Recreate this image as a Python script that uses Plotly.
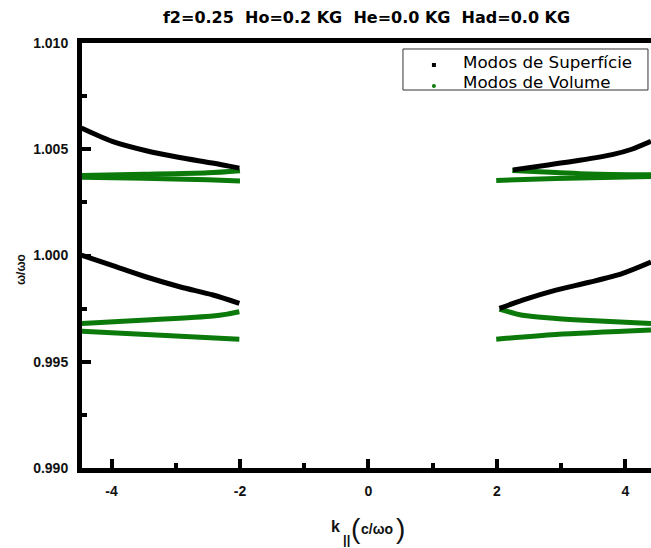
import plotly.graph_objects as go

# Dispersion branches: k_parallel (c/wo) versus normalized frequency w/wo
# Surface modes (black)
surf_ul_k = [-4.47, -3.99, -3.46, -2.94, -2.43, -2.01]
surf_ul_w = [1.00600, 1.00537, 1.00493, 1.00461, 1.00435, 1.00411]
surf_ll_k = [-4.47, -3.98, -3.47, -2.94, -2.42, -2.01]
surf_ll_w = [1.00002, 0.99952, 0.99900, 0.99853, 0.99814, 0.99775]
surf_ur_k = [2.25, 2.77, 3.29, 3.81, 4.10, 4.40]
surf_ur_w = [1.00403, 1.00425, 1.00448, 1.00476, 1.00500, 1.00537]
surf_lr_k = [2.04, 2.40, 2.92, 3.44, 3.96, 4.40]
surf_lr_w = [0.99751, 0.99790, 0.99837, 0.99874, 0.99916, 0.99969]

# Volume modes (green)
vol_ul_a_k = [-4.47, -3.50, -2.50, -2.00]
vol_ul_a_w = [1.00377, 1.00382, 1.00389, 1.00399]
vol_ul_b_k = [-4.47, -3.50, -2.50, -2.00]
vol_ul_b_w = [1.00368, 1.00363, 1.00356, 1.00351]
vol_ll_a_k = [-4.47, -3.46, -2.42, -2.20, -2.01]
vol_ll_a_w = [0.99680, 0.99696, 0.99715, 0.99724, 0.99735]
vol_ll_b_k = [-4.47, -3.46, -2.01]
vol_ll_b_w = [0.99644, 0.99628, 0.99606]
vol_ur_a_k = [2.24, 2.92, 3.44, 4.40]
vol_ur_a_w = [1.00400, 1.00391, 1.00384, 1.00380]
vol_ur_b_k = [1.99, 2.92, 4.40]
vol_ur_b_w = [1.00353, 1.00362, 1.00372]
vol_lr_a_k = [2.04, 2.40, 2.92, 3.44, 4.40]
vol_lr_a_w = [0.99748, 0.99719, 0.99704, 0.99694, 0.99680]
vol_lr_b_k = [1.99, 2.92, 4.40]
vol_lr_b_w = [0.99606, 0.99628, 0.99649]

surface_branches = [(surf_ul_k, surf_ul_w), (surf_ll_k, surf_ll_w),
                     (surf_ur_k, surf_ur_w), (surf_lr_k, surf_lr_w)]
volume_branches = [(vol_ul_a_k, vol_ul_a_w), (vol_ul_b_k, vol_ul_b_w),
                   (vol_ll_a_k, vol_ll_a_w), (vol_ll_b_k, vol_ll_b_w),
                   (vol_ur_a_k, vol_ur_a_w), (vol_ur_b_k, vol_ur_b_w),
                   (vol_lr_a_k, vol_lr_a_w), (vol_lr_b_k, vol_lr_b_w)]

x_tickvals = [-4, -2, 0, 2, 4]
x_ticktext = ["-4", "-2", "0", "2", "4"]

title_text = "f2=0.25\u00a0 Ho=0.2 KG\u00a0 He=0.0 KG\u00a0 Had=0.0 KG"
legend_names = ["Modos de Superfície", "Modos de Volume"]

BLACK = "#000000"
GREEN = "#0b7a0b"
TEXT = "#111111"

fig = go.Figure()

for k, w in volume_branches:
    fig.add_trace(go.Scatter(x=k, y=w, mode="lines", showlegend=False,
                             line=dict(color=GREEN, width=5, shape="spline", smoothing=0.8)))
for k, w in surface_branches:
    fig.add_trace(go.Scatter(x=k, y=w, mode="lines", showlegend=False,
                             line=dict(color=BLACK, width=5, shape="spline", smoothing=0.8)))

tick_font = dict(family="Liberation Sans, Arial, sans-serif", size=14, color=TEXT)

fig.update_layout(
    width=651, height=548,
    margin=dict(l=82, r=0, t=43, b=80),
    paper_bgcolor="white", plot_bgcolor="white",
    title=dict(text="<b>" + title_text + "</b>", x=0.5, xref="paper",
               y=1 - 17 / 548, yref="container", yanchor="middle", xanchor="center",
               font=dict(family="DejaVu Sans, sans-serif", size=16, color="#000000")),
    showlegend=False,
    xaxis=dict(range=[-4.46, 4.40], showgrid=False, zeroline=False,
               showline=True, linecolor=BLACK, linewidth=5, mirror=True,
               tickmode="array", tickvals=x_tickvals, ticktext=["<b>%s</b>" % t for t in x_ticktext],
               ticks="inside", ticklen=9, tickwidth=4,
               tickcolor=BLACK, tickfont=tick_font, ticklabelstandoff=6,
               minor=dict(ticks="inside", dtick=1, tick0=0, ticklen=5, tickwidth=4, tickcolor=BLACK)),
    yaxis=dict(range=[0.990, 1.010], showgrid=False, zeroline=False,
               showline=True, linecolor=BLACK, linewidth=5, mirror=False,
               tickmode="linear", tick0=0.990, dtick=0.005, tickformat=".3f",
               ticks="inside", ticklen=9, tickwidth=4, tickcolor=BLACK,
               tickfont=tick_font, tickprefix="<b>", ticksuffix="</b>", ticklabelstandoff=6,
               minor=dict(ticks="inside", dtick=0.0025, tick0=0.990, ticklen=5, tickwidth=4,
                          tickcolor=BLACK)),
)

# Legend box with symbols and labels
fig.add_shape(type="rect", xref="paper", yref="paper", x0=0.5641, x1=0.9947, y0=0.8894, y1=0.9859,
              line=dict(color="#333333", width=1), fillcolor="white", layer="above")
fig.add_shape(type="rect", xref="paper", yref="paper", x0=0.6150, x1=0.6220, y0=0.9435, y1=0.9529,
              line=dict(width=0), fillcolor=BLACK, layer="above")
fig.add_shape(type="circle", xref="paper", yref="paper", x0=0.6150, x1=0.6220, y0=0.8941, y1=0.9035,
              line=dict(width=0), fillcolor=GREEN, layer="above")
legend_font = dict(family="DejaVu Sans, sans-serif", size=16.7, color="#000000")
fig.add_annotation(text=legend_names[0], xref="paper", yref="paper", x=0.6660, y=0.9553,
                   xanchor="left", yanchor="middle", showarrow=False, font=legend_font)
fig.add_annotation(text=legend_names[1], xref="paper", yref="paper", x=0.6660, y=0.9082,
                   xanchor="left", yanchor="middle", showarrow=False, font=legend_font)

ann_font = "Liberation Sans, Arial, sans-serif"
# y-axis title
fig.add_annotation(text="<b>ω/ωo</b>", xref="paper", yref="paper", x=-0.107, y=0.466,
                   xanchor="center", yanchor="middle",
                   textangle=-90, showarrow=False, font=dict(family=ann_font, size=12, color=TEXT))
# x-axis title: k with "||" subscript and (c/ωo)
xt = [("<b>k</b>", 0.4455, -0.138, 16),
      ("<b>||</b>", 0.4657, -0.168, 13),
      ("(", 0.4815, -0.1435, 28),
      ("<b>c/ωo</b>", 0.5185, -0.1435, 14),
      (")", 0.5590, -0.1435, 28)]
for txt, px, py, sz in xt:
    fig.add_annotation(text=txt, xref="paper", yref="paper", x=px, y=py,
                       xanchor="center", yanchor="middle", showarrow=False,
                       font=dict(family=ann_font, size=sz, color=TEXT))

fig.write_html("out.html")
